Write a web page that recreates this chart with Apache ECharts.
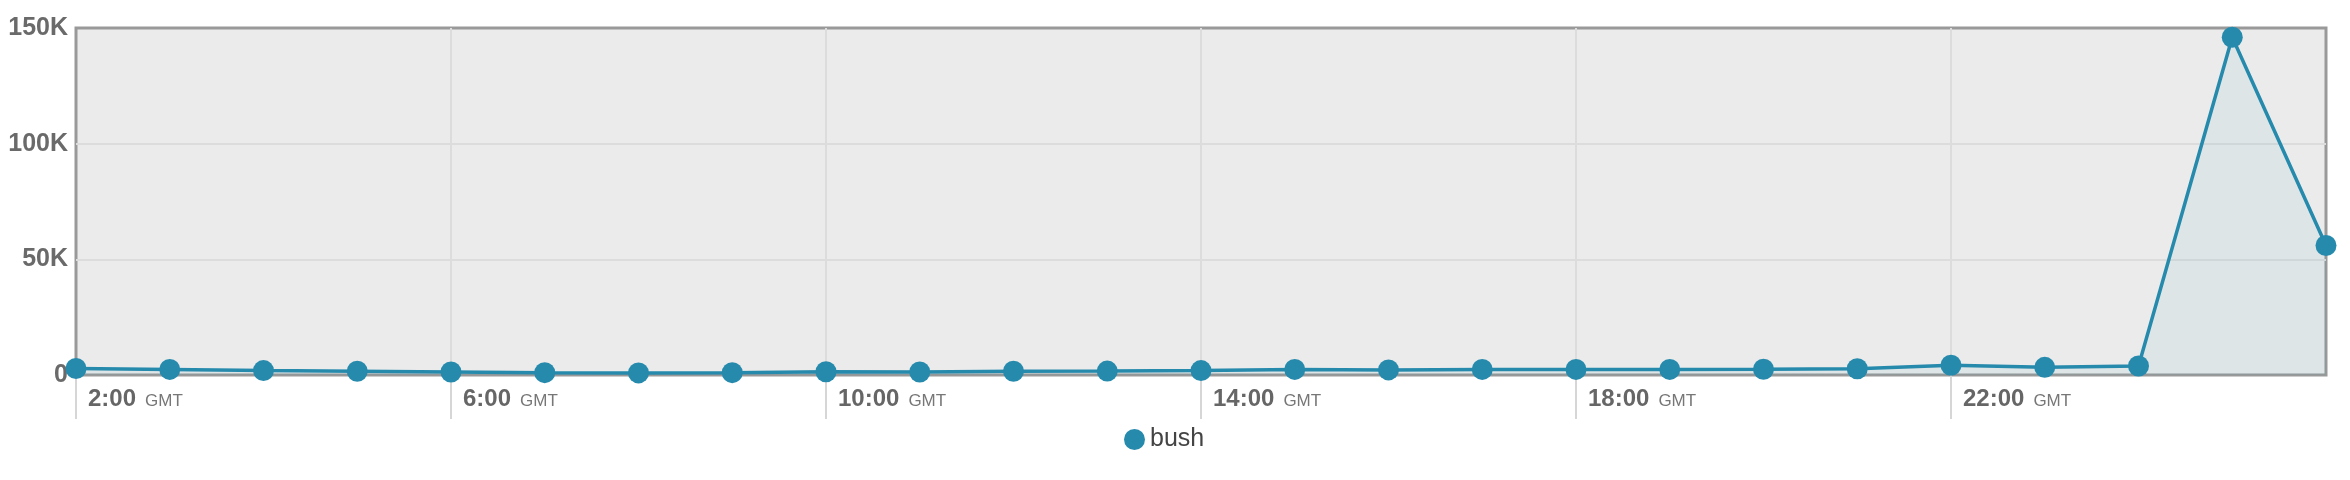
<!DOCTYPE html>
<html>
<head>
<meta charset="utf-8">
<script src="https://cdn.jsdelivr.net/npm/echarts@6/dist/echarts.min.js"></script>
<style>
  html, body { margin: 0; padding: 0; background: #fff; }
  #chart { width: 2350px; height: 480px; }
</style>
</head>
<body>
<div id="chart"></div>
<script>
const categories = ['2:00','3:00','4:00','5:00','6:00','7:00','8:00','9:00','10:00','11:00','12:00','13:00','14:00','15:00','16:00','17:00','18:00','19:00','20:00','21:00','22:00','23:00','0:00','1:00','2:00'];
const bushValues = [2800, 2400, 1900, 1600, 1300, 1000, 900, 1000, 1400, 1300, 1600, 1700, 1900, 2400, 2200, 2400, 2400, 2400, 2500, 2700, 4200, 3300, 3900, 146000, 56000];
const yTicks = [0, 50000, 100000, 150000];
const seriesName = 'bush';

const FONT = "'Liberation Sans', Arial, Helvetica, sans-serif";
const lastIdx = categories.length - 1;
const every4 = (i) => i % 4 === 0 && i < lastIdx;
const every4NoFirst = (i) => i % 4 === 0 && i > 0 && i < lastIdx;

const chart = echarts.init(document.getElementById('chart'));
chart.setOption({
  animation: false,
  backgroundColor: '#ffffff',
  textStyle: { fontFamily: FONT },
  grid: {
    left: 76, right: 24, top: 28, bottom: 105,
    outerBoundsMode: 'none',
    containLabel: false,
    show: true,
    backgroundColor: '#ebebeb',
    borderColor: '#999999',
    borderWidth: 3
  },
  legend: {
    data: [{ name: seriesName, icon: 'circle' }],
    left: 1119,
    top: 422,
    itemWidth: 21,
    itemHeight: 21,
    textStyle: { fontFamily: FONT, fontSize: 25, color: '#444' }
  },
  xAxis: {
    type: 'category',
    data: categories,
    boundaryGap: false,
    axisLine: { show: false },
    axisTick: {
      show: true,
      interval: every4,
      length: 44,
      lineStyle: { color: '#d6d6d6', width: 2 }
    },
    splitLine: {
      show: true,
      interval: every4NoFirst,
      lineStyle: { color: '#dcdcdc', width: 2 }
    },
    axisLabel: {
      interval: every4,
      align: 'left',
      margin: 12,
      padding: [0, 0, 0, 12],
      formatter: v => '{a|' + v + '}{b|GMT}',
      rich: {
        a: { fontFamily: FONT, fontSize: 24, fontWeight: 'bold', color: '#666' },
        b: { fontFamily: FONT, fontSize: 17, color: '#777', padding: [5, 0, 0, 9] }
      }
    }
  },
  yAxis: {
    type: 'value',
    min: yTicks[0],
    max: yTicks[yTicks.length - 1],
    interval: yTicks[1] - yTicks[0],
    axisLine: { show: false },
    axisTick: { show: false },
    splitLine: {
      showMinLine: false,
      showMaxLine: false,
      lineStyle: { color: '#dcdcdc', width: 2 }
    },
    axisLabel: {
      margin: 8,
      fontFamily: FONT,
      fontSize: 25,
      fontWeight: 'bold',
      color: '#6a6a6a',
      formatter: v => v === 0 ? '0' : (v / 1000) + 'K'
    }
  },
  series: [{
    name: seriesName,
    type: 'line',
    data: bushValues,
    symbol: 'circle',
    symbolSize: 21,
    showAllSymbol: true,
    color: '#268aad',
    lineStyle: { width: 3.5, color: '#268aad' },
    itemStyle: { color: '#268aad' },
    areaStyle: { color: 'rgba(38,139,173,0.09)' },
    z: 5
  }]
});
</script>
</body>
</html>
